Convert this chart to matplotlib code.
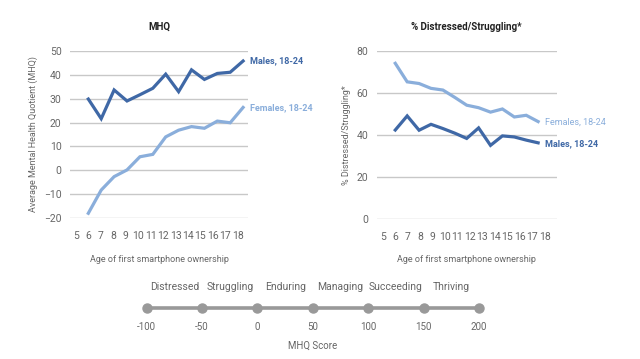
import matplotlib
matplotlib.use("Agg")
import matplotlib.pyplot as plt
import numpy as np

plt.rcParams['font.family'] = ['Roboto', 'DejaVu Sans']

ages = [6, 7, 8, 9, 10, 11, 12, 13, 14, 15, 16, 17, 18]
tick_ages = [5, 6, 7, 8, 9, 10, 11, 12, 13, 14, 15, 16, 17, 18]

mhq_males = [29.8, 21.6, 33.6, 29.0, 31.6, 34.3, 40.2, 32.9, 42.0, 38.0, 40.5, 41.0, 45.7]
mhq_females = [-17.9, -8.2, -2.6, 0.2, 5.7, 6.7, 14.0, 16.8, 18.3, 17.6, 20.6, 19.9, 26.3]

dist_females = [74.0, 65.2, 64.4, 62.1, 61.3, 57.8, 54.1, 52.9, 50.8, 52.3, 48.5, 49.3, 46.3]
dist_males = [42.3, 49.0, 42.2, 45.0, 43.0, 40.8, 38.3, 43.3, 35.0, 39.5, 39.0, 37.5, 36.2]

scale_values = [-100, -50, 0, 50, 100, 150, 200]
scale_categories = ["Distressed", "Struggling", "Enduring", "Managing", "Succeeding", "Thriving"]

DARK = '#3f68a6'
LIGHT = '#8aaedb'
GRID = '#c8c8c8'
TXT = '#666666'

W, H = 640, 359
fig = plt.figure(figsize=(W / 100, H / 100), dpi=100)


def px_axes(x0, x1, ytop, ybot):
    return fig.add_axes([x0 / W, 1 - ybot / H, (x1 - x0) / W, (ybot - ytop) / H])


def style(ax, yticks, xlim, tick_scale):
    for s in ax.spines.values():
        s.set_visible(False)
    ax.set_yticks(yticks)
    ax.yaxis.grid(True, color=GRID, lw=1)
    ax.set_axisbelow(True)
    ax.tick_params(axis='both', length=0, labelsize=7.5, labelcolor=TXT)
    ax.tick_params(axis='y', pad=6)
    ax.tick_params(axis='x', pad=9)
    pos = [6 + (k - 6) * tick_scale for k in tick_ages]
    ax.set_xticks(pos)
    ax.set_xticklabels([str(k) for k in tick_ages])
    ax.set_xlim(*xlim)


# Left: MHQ
ax1 = px_axes(70, 248, 50.7, 218.3)
style(ax1, [-20, -10, 0, 10, 20, 30, 40, 50], (4.58, 18.38), 0.966)
ax1.set_ylim(-20, 50)
ax1.plot(ages, mhq_males, color=DARK, lw=2.3, clip_on=False, solid_joinstyle='miter')
ax1.plot(ages, mhq_females, color=LIGHT, lw=2.3, clip_on=False, solid_joinstyle='miter')
ax1.annotate('Males, 18-24', (ages[-1], mhq_males[-1]), xytext=(5, 0.5), textcoords='offset points',
             color=DARK, fontsize=6.5, fontweight='bold', va='center', ha='left')
ax1.annotate('Females, 18-24', (ages[-1], mhq_females[-1]), xytext=(5, 0), textcoords='offset points',
             color=LIGHT, fontsize=6.5, fontweight='bold', va='center', ha='left')
ax1.set_title('MHQ', fontsize=7, fontweight='bold', color='#222222', pad=15)
ax1.set_ylabel('Average Mental Health Quotient (MHQ)', fontsize=6.5, color=TXT, labelpad=4)
ax1.set_xlabel('Age of first smartphone ownership', fontsize=6.5, color=TXT, labelpad=10)

# Right: % Distressed/Struggling
ax2 = px_axes(376.7, 556.7, 50.7, 219)
style(ax2, [0, 20, 40, 60, 80], (4.44, 19.56), 1.045)
ax2.set_ylim(0, 80)
ax2.plot(ages, dist_females, color=LIGHT, lw=2.3, clip_on=False, solid_joinstyle='miter')
ax2.plot(ages, dist_males, color=DARK, lw=2.3, clip_on=False, solid_joinstyle='miter')
ax2.annotate('Females, 18-24', (ages[-1], dist_females[-1]), xytext=(5, -0.5), textcoords='offset points',
             color=LIGHT, fontsize=6.5, va='center', ha='left')
ax2.annotate('Males, 18-24', (ages[-1], dist_males[-1]), xytext=(5, -1), textcoords='offset points',
             color=DARK, fontsize=6.5, fontweight='bold', va='center', ha='left')
ax2.set_title('% Distressed/Struggling*', fontsize=7, fontweight='bold', color='#222222', pad=15)
ax2.set_ylabel('% Distressed/Struggling*', fontsize=6.5, color=TXT, labelpad=4)
ax2.set_xlabel('Age of first smartphone ownership', fontsize=6.5, color=TXT, labelpad=10)

# Bottom scale
ax3 = fig.add_axes([146.7 / W, 0, (479 - 146.7) / W, 90 / H])
ax3.set_xlim(-100, 200)
ax3.set_ylim(0, 90)
ax3.axis('off')
line_y = 51
ax3.plot(scale_values, [line_y] * len(scale_values), color='#999999', lw=2.6,
         marker='o', ms=6.5, mfc='#999999', mec='#999999', clip_on=False)
for v in scale_values:
    ax3.text(v, 32, str(v), ha='center', va='center', fontsize=7, color=TXT)
for i, c in enumerate(scale_categories):
    mid = (scale_values[i] + scale_values[i + 1]) / 2
    ax3.text(mid, 72, c, ha='center', va='center', fontsize=7.5, color=TXT)
ax3.text(50, 13, 'MHQ Score', ha='center', va='center', fontsize=7, color=TXT)

fig.savefig('out.png', dpi=100, facecolor='white')
